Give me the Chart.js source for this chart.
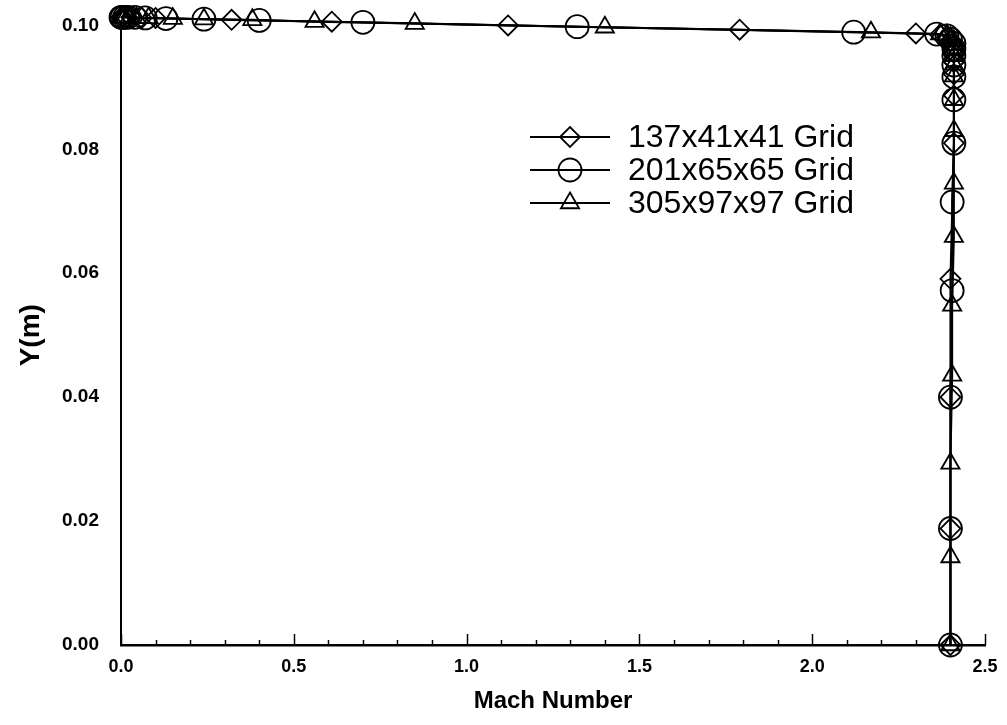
<!DOCTYPE html>
<html>
<head>
<meta charset="utf-8">
<script src="https://cdn.jsdelivr.net/npm/chart.js@4.4.1/dist/chart.umd.min.js"></script>
<style>
html,body{margin:0;padding:0;background:#ffffff;}
#wrap{width:1007px;height:725px;position:relative;}
</style>
</head>
<body>
<div id="wrap"><canvas id="c" width="1007" height="725"></canvas></div>
<script>
// ---- data ----
const seriesNames = ['137x41x41 Grid', '201x65x65 Grid', '305x97x97 Grid'];

const machGrid1 = [0.00, 0.005, 0.015, 0.03, 0.06, 0.10, 0.32, 0.61, 1.12, 1.79, 2.30, 2.37, 2.39, 2.40, 2.41, 2.41, 2.41, 2.41, 2.41, 2.41, 2.40, 2.40, 2.40, 2.40];
const yGrid1    = [0.1013, 0.1013, 0.1013, 0.1013, 0.1012, 0.1012, 0.1009, 0.1006, 0.1000, 0.0993, 0.0987, 0.0985, 0.0981, 0.0975, 0.0967, 0.0956, 0.0941, 0.0921, 0.0887, 0.0810, 0.0591, 0.0400, 0.0188, 0.0000];

const machGrid2 = [0.00, 0.003, 0.01, 0.02, 0.04, 0.07, 0.13, 0.24, 0.40, 0.70, 1.32, 2.12, 2.36, 2.39, 2.40, 2.41, 2.41, 2.41, 2.41, 2.41, 2.41, 2.41, 2.405, 2.405, 2.40, 2.40, 2.40];
const yGrid2    = [0.1013, 0.1013, 0.1013, 0.1013, 0.1013, 0.1012, 0.1011, 0.1010, 0.1008, 0.1005, 0.0998, 0.0989, 0.0986, 0.0983, 0.0978, 0.0971, 0.0962, 0.0951, 0.0936, 0.0917, 0.0880, 0.0810, 0.0715, 0.0572, 0.0400, 0.0188, 0.0000];

const machGrid3 = [0.00, 0.002, 0.006, 0.012, 0.025, 0.045, 0.08, 0.15, 0.24, 0.38, 0.56, 0.85, 1.40, 2.17, 2.37, 2.39, 2.40, 2.41, 2.41, 2.41, 2.41, 2.41, 2.41, 2.41, 2.41, 2.41, 2.41, 2.405, 2.405, 2.40, 2.40, 2.40];
const yGrid3    = [0.1013, 0.1013, 0.1013, 0.1013, 0.1013, 0.1012, 0.1012, 0.1011, 0.1010, 0.1009, 0.1006, 0.1003, 0.0997, 0.0989, 0.0986, 0.0984, 0.0980, 0.0975, 0.0969, 0.0961, 0.0951, 0.0937, 0.0918, 0.0880, 0.0830, 0.0745, 0.0659, 0.0548, 0.0435, 0.0293, 0.0142, 0.0000];

const xTickLabels = ['0.0', '0.5', '1.0', '1.5', '2.0', '2.5'];
const yTickLabels = ['0.00', '0.02', '0.04', '0.06', '0.08', '0.10'];
const xMinorStep = 0.1;

// ---- styling ----
const FONT = "'Liberation Sans', Arial, Helvetica, sans-serif";
const markerStyles = ['rectRot', 'circle', 'triangle'];
const markerRadii = [10, 11.5, 10.5];

function pts(xs, ys) { return xs.map((x, i) => ({x: x, y: ys[i]})); }
const seriesData = [pts(machGrid1, yGrid1), pts(machGrid2, yGrid2), pts(machGrid3, yGrid3)];

const datasets = seriesData.map((d, i) => ({
  label: seriesNames[i],
  data: d,
  showLine: true,
  borderColor: '#000',
  borderWidth: 2,
  pointStyle: markerStyles[i],
  pointRadius: markerRadii[i],
  pointBorderWidth: 1.8,
  pointBorderColor: '#000',
  pointBackgroundColor: 'rgba(0,0,0,0)',
  clip: false,
  tension: 0
}));

// inward tick marks on the x axis (major at each label, minor every 0.1)
const inwardTicks = {
  id: 'inwardTicks',
  beforeDatasetsDraw(chart, args, opts) {
    const xs = chart.scales.x;
    const ctx = chart.ctx;
    const base = chart.chartArea.bottom;
    ctx.save();
    ctx.strokeStyle = '#000';
    ctx.lineWidth = 1.5;
    const n = Math.round((xs.max - xs.min) / xMinorStep);
    for (let i = 0; i <= n; i++) {
      const v = xs.min + i * xMinorStep;
      const px = Math.round(xs.getPixelForValue(v)) + 0.5;
      const len = (i % 5 === 0) ? opts.major : opts.minor;
      ctx.beginPath();
      ctx.moveTo(px, base);
      ctx.lineTo(px, base - len);
      ctx.stroke();
    }
    ctx.restore();
  }
};

// legend drawn inside the plot: line + marker + text
const lineLegend = {
  id: 'lineLegend',
  afterDatasetsDraw(chart, args, opts) {
    const ctx = chart.ctx;
    ctx.save();
    chart.data.datasets.forEach((ds, i) => {
      const y = opts.y0 + i * opts.dy;
      ctx.strokeStyle = '#000';
      ctx.lineWidth = 2;
      ctx.beginPath();
      ctx.moveTo(opts.x0, y);
      ctx.lineTo(opts.x0 + opts.len, y);
      ctx.stroke();
      ctx.fillStyle = 'rgba(0,0,0,0)';
      ctx.lineWidth = ds.pointBorderWidth;
      Chart.helpers.drawPoint(ctx, {pointStyle: ds.pointStyle, radius: ds.pointRadius, rotation: 0, borderWidth: ds.pointBorderWidth}, opts.x0 + opts.len / 2, y);
      ctx.fillStyle = '#000';
      ctx.font = opts.font;
      ctx.textAlign = 'left';
      ctx.textBaseline = 'middle';
      ctx.fillText(ds.label, opts.textX, y + 1);
    });
    ctx.restore();
  }
};

new Chart(document.getElementById('c'), {
  type: 'scatter',
  data: {datasets: datasets},
  plugins: [inwardTicks, lineLegend],
  options: {
    responsive: false,
    animation: false,
    devicePixelRatio: 1,
    layout: {padding: {left: 0, right: 22, top: 18, bottom: 0}},
    plugins: {
      legend: {display: false},
      tooltip: {enabled: false},
      inwardTicks: {major: 11, minor: 5},
      lineLegend: {x0: 530, len: 80, textX: 628, y0: 137, dy: 33, font: "32px " + FONT}
    },
    scales: {
      x: {
        type: 'linear', position: 'bottom', min: 0, max: 2.5,
        afterFit: s => { s.height = 80; },
        grid: {display: false},
        border: {display: true, color: '#000', width: 2.5},
        ticks: {
          stepSize: 0.5, maxRotation: 0, autoSkip: false, padding: 3, color: '#000',
          font: {family: FONT, size: 18, weight: 'bold'},
          callback: (v, i) => xTickLabels[i]
        },
        title: {display: true, text: 'Mach Number', color: '#000',
          font: {family: FONT, size: 24, weight: 'bold'}, padding: {top: 0, bottom: 9}}
      },
      y: {
        type: 'linear', position: 'left', min: 0, max: 0.1,
        afterFit: s => { s.width = 121; },
        grid: {display: false},
        border: {display: true, color: '#000', width: 2},
        ticks: {
          stepSize: 0.02, autoSkip: false, padding: 14, color: '#000',
          font: {family: FONT, size: 19, weight: 'bold'},
          callback: (v, i) => yTickLabels[i]
        },
        title: {display: true, text: 'Y(m)', color: '#000',
          font: {family: FONT, size: 28, weight: 'bold'}, padding: {top: 14, bottom: 0}}
      }
    }
  }
});
</script>
</body>
</html>
